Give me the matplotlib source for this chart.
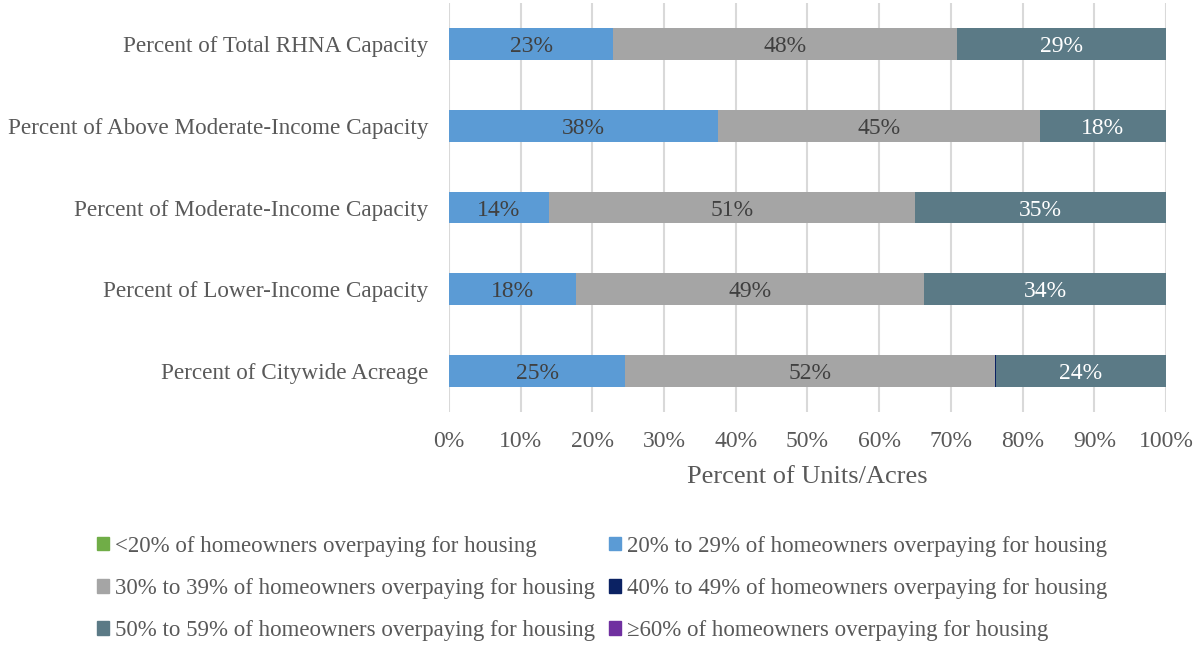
import matplotlib.pyplot as plt
from matplotlib.patches import Patch

categories = ["Percent of Citywide Acreage",
              "Percent of Lower-Income Capacity",
              "Percent of Moderate-Income Capacity",
              "Percent of Above Moderate-Income Capacity",
              "Percent of Total RHNA Capacity"]

series_names = ["<20% of homeowners overpaying for housing",
                "20% to 29% of homeowners overpaying for housing",
                "30% to 39% of homeowners overpaying for housing",
                "40% to 49% of homeowners overpaying for housing",
                "50% to 59% of homeowners overpaying for housing",
                "\u226560% of homeowners overpaying for housing"]

under20 = [0, 0, 0, 0, 0]
p20_29 = [24.6, 17.7, 13.9, 37.5, 22.9]
p30_39 = [51.5, 48.6, 51.1, 44.9, 48.0]
p40_49 = [0.2, 0, 0, 0, 0]
p50_59 = [23.7, 33.7, 35.0, 17.6, 29.1]
over60 = [0, 0, 0, 0, 0]

colors = ["#70AD47", "#5B9BD5", "#A5A5A5", "#0B2263", "#5B7A86", "#7030A0"]
label_colors = [None, "#404040", "#404040", None, "white", None]

plt.rcParams['font.family'] = ['Liberation Serif', 'DejaVu Serif']
txt = "#595959"

fig = plt.figure(figsize=(11.93, 6.45), dpi=100)
ax = fig.add_axes([449/1193, 1-412/645, 717/1193, 409/645])

data = [under20, p20_29, p30_39, p40_49, p50_59, over60]
y = list(range(len(categories)))
left = [0.0] * len(categories)
for vals, col, lc in zip(data, colors, label_colors):
    ax.barh(y, vals, left=left, height=0.39, color=col, zorder=3)
    if lc is not None:
        for i, v in enumerate(vals):
            if v > 0:
                ax.text(left[i] + v / 2, y[i], f"{round(v):.0f}%", ha='center',
                        va='center_baseline', color=lc, fontsize=17, zorder=4)
    left = [l + v for l, v in zip(left, vals)]

ax.set_xlim(0, 100)
ax.set_ylim(-0.5, 4.5)
ax.set_xticks(range(0, 101, 10))
ax.set_xticklabels([f"{t}%" for t in range(0, 101, 10)])
ax.set_yticks(y)
ax.set_yticklabels(categories)
ax.tick_params(length=0, labelsize=17, colors=txt)
ax.tick_params(axis='x', pad=14)
ax.tick_params(axis='y', labelsize=16.7, pad=15)
ax.grid(axis='x', color='#D9D9D9', linewidth=1.5, zorder=0)
for s in ax.spines.values():
    s.set_visible(False)
ax.set_xlabel("Percent of Units/Acres", fontsize=19, color=txt, labelpad=10)

handles = [Patch(color=c) for c in colors]
order = [0, 2, 4, 1, 3, 5]
fig.legend([handles[i] for i in order], [series_names[i] for i in order],
           ncol=2, loc='upper left', bbox_to_anchor=(76/1193, 1-515/645),
           frameon=False, fontsize=16.5, labelcolor=txt,
           handlelength=0.55, handleheight=0.55, handletextpad=0.25,
           columnspacing=0.6, labelspacing=0.93)

fig.savefig("out.png", dpi=100)
